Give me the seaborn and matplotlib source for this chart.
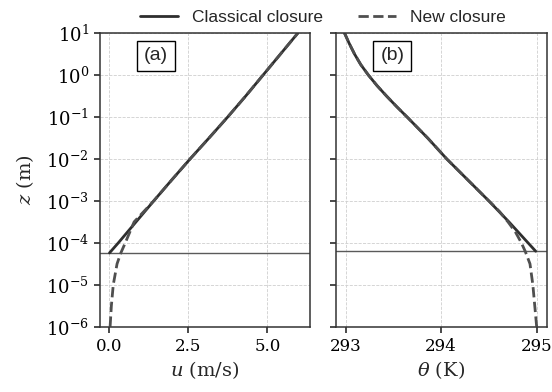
import numpy as np
import pandas as pd
import matplotlib
matplotlib.use("Agg")
import matplotlib.pyplot as plt
import seaborn as sns
from matplotlib.ticker import NullLocator, LogLocator

# ---------------- data ----------------
z0_m = 5.75e-5          # roughness height, momentum (horizontal line in a)
z0_h = 6.3e-5           # roughness height, heat (horizontal line in b)

log_z_classic_u = [-4.24, -4.0, -3.5, -3.0, -2.5, -2.0, -1.5, -1.0, -0.5, 0.0, 0.5, 1.0]
u_classic = [0.0, 0.28, 0.84, 1.40, 1.97, 2.55, 3.15, 3.74, 4.31, 4.86, 5.41, 5.96]

log_z_new_u = [-6.0, -5.5, -5.0, -4.5, -4.24, -4.0, -3.75, -3.5, -3.25, -3.0,
               -2.5, -2.0, -1.5, -1.0, -0.5, 0.0, 0.5, 1.0]
u_new = [0.02, 0.06, 0.12, 0.24, 0.36, 0.50, 0.64, 0.78, 1.09, 1.40,
         1.97, 2.55, 3.15, 3.74, 4.31, 4.86, 5.41, 5.96]

log_z_classic_t = [-4.2, -4.0, -3.5, -3.0, -2.5, -2.0, -1.5, -1.0, -0.75, -0.5,
                   -0.25, 0.0, 0.25, 0.5, 0.75, 1.0]
theta_classic = [294.99, 294.91, 294.71, 294.50, 294.28, 294.06, 293.86, 293.645, 293.535, 293.43,
                 293.33, 293.24, 293.16, 293.095, 293.04, 292.99]

log_z_new_t = [-6.0, -5.5, -5.0, -4.5, -4.2, -4.0, -3.75, -3.5, -3.25, -3.0,
               -2.5, -2.0, -1.5, -1.0, -0.75, -0.5, -0.25, 0.0, 0.25, 0.5, 0.75, 1.0]
theta_new = [295.00, 294.98, 294.96, 294.93, 294.88, 294.84, 294.78, 294.70, 294.61, 294.50,
             294.28, 294.06, 293.86, 293.645, 293.535, 293.43, 293.33, 293.24, 293.16, 293.095,
             293.04, 292.99]

series_labels = ["Classical closure", "New closure"]
panel_labels = ["(a)", "(b)"]
xlabels = [r"$u$ (m/s)", r"$\theta$ (K)"]
ylabel = r"$z$ (m)"

# ---------------- style ----------------
sns.set_theme(style="ticks")
plt.rcParams.update({
    "font.family": "serif",
    "font.serif": ["DejaVu Serif"],
    "mathtext.fontset": "dejavuserif",
    "axes.edgecolor": "#333333",
    "axes.linewidth": 1.1,
    "xtick.color": "#333333",
    "ytick.color": "#333333",
    "xtick.labelcolor": "black",
    "ytick.labelcolor": "black",
    "xtick.major.size": 4.5,
    "ytick.major.size": 4.5,
    "xtick.direction": "out",
    "ytick.direction": "out",
})

solid_c = "#2e2e2e"
dash_c = "#4f4f4f"
line_c = "#5a5a5a"

W, H = 552, 392
fig = plt.figure(figsize=(W / 100, H / 100), dpi=100)
bot = 1 - 326.7 / H
hgt = (326.7 - 33.3) / H
ax1 = fig.add_axes([100 / W, bot, 210 / W, hgt])
ax2 = fig.add_axes([336 / W, bot, 210.7 / W, hgt], sharey=ax1)

def frame(logz, vals):
    return pd.DataFrame({"z": 10.0 ** np.asarray(logz), "v": vals})

panels = [
    (ax1, frame(log_z_classic_u, u_classic), frame(log_z_new_u, u_new), z0_m, (-0.30, 6.35), [0.0, 2.5, 5.0]),
    (ax2, frame(log_z_classic_t, theta_classic), frame(log_z_new_t, theta_new), z0_h, (292.9, 295.105), [293, 294, 295]),
]

for i, (ax, dc, dn, z0, xl, xt) in enumerate(panels):
    ax.set_yscale("log")
    sns.lineplot(data=dc, x="v", y="z", sort=False, estimator=None, ax=ax,
                 color=solid_c, lw=2.0, label=series_labels[0] if i == 0 else None)
    sns.lineplot(data=dn, x="v", y="z", sort=False, estimator=None, ax=ax,
                 color=dash_c, lw=2.0, linestyle="--", label=series_labels[1] if i == 0 else None)
    ax.axhline(z0, color=line_c, lw=1.0, zorder=1)
    ax.set_xlim(*xl)
    ax.set_xticks(xt)
    ax.set_ylim(1e-6, 1e1)
    ax.yaxis.set_major_locator(LogLocator(base=10, numticks=20))
    ax.yaxis.set_minor_locator(NullLocator())
    ax.grid(True, which="major", color="#cfcfcf", linestyle="--", linewidth=0.6)
    ax.set_axisbelow(True)
    ax.tick_params(axis="y", labelsize=13)
    ax.tick_params(axis="x", labelsize=12)
    ax.set_xlabel(xlabels[i], fontsize=14, labelpad=3)
    ax.text(0.267, 0.923, panel_labels[i], transform=ax.transAxes, ha="center", va="center",
            fontsize=14, family=["Liberation Sans", "DejaVu Sans"],
            bbox=dict(boxstyle="square,pad=0.35", facecolor="white", edgecolor="black", lw=1.0))
    if ax.get_legend() is not None:
        ax.get_legend().remove()

ax1.set_ylabel(ylabel, fontsize=14, labelpad=7)
ax2.set_ylabel("")
ax2.tick_params(labelleft=False)

handles, labels = ax1.get_legend_handles_labels()
fig.legend(handles, labels, loc="upper center", bbox_to_anchor=(0.585, 1.015), ncol=2,
           frameon=False, prop={"family": ["Liberation Sans", "DejaVu Sans"], "size": 12.5},
           handlelength=2.2, columnspacing=2.0)

fig.savefig("out.png", dpi=100)
